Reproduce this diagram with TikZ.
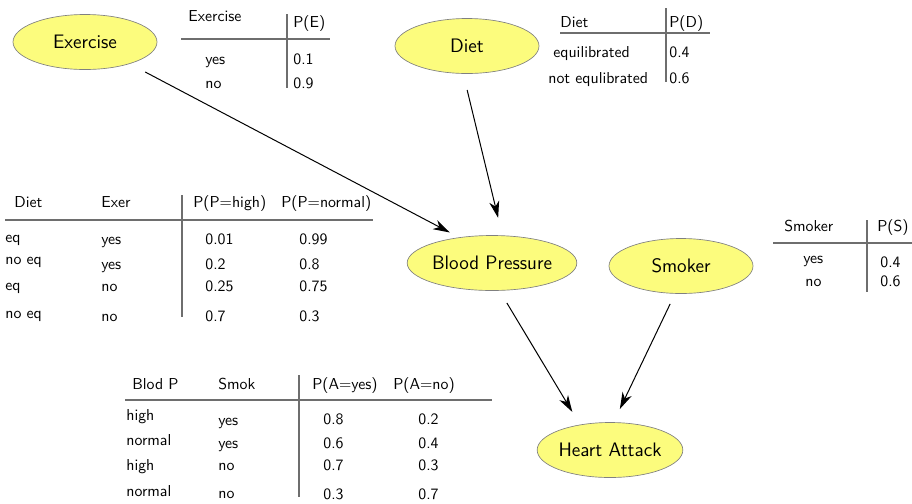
\documentclass[tikz,border=0pt]{standalone}
\usepackage{fontspec}
\renewcommand{\familydefault}{\sfdefault}
\usetikzlibrary{arrows.meta,shapes.geometric}
\definecolor{nodefill}{RGB}{252,252,125}
\definecolor{rulegray}{RGB}{110,110,110}

\begin{document}
\begin{tikzpicture}[x=0.6pt, y=-0.6pt, >={Stealth[length=10pt,width=6pt,inset=3pt]},
    var/.style={ellipse, draw=black!50, fill=nodefill, minimum width=86.4pt, minimum height=33pt,
        inner sep=0pt, outer sep=0pt, font=\fontsize{11.7}{14}\selectfont},
    cell/.style={anchor=west, inner sep=0pt, text height=7pt, text depth=2pt,
        font=\fontsize{9.5}{11}\selectfont},
    rule/.style={rulegray, line width=1pt},
    edge/.style={->, semithick}]
    \useasboundingbox (0,0) rectangle (912,503);

    % Variables of the network
    \node[var] (ex) at (85,42) {Exercise};
    \node[var] (diet) at (467,46) {Diet};
    \node[var] (bp) at (492,263) {Blood Pressure};
    \node[var] (smoker) at (681,266) {Smoker};
    \node[var] (ha) at (610,450) {Heart Attack};

    % Dependencies
    \draw[edge, shorten <=10.7pt, shorten >=6.6pt] (ex.-26) -- (bp.142);
    \draw[edge, shorten <=10.2pt, shorten >=11pt] (diet.-98) -- (bp.69);
    \draw[edge, shorten <=8.8pt, shorten >=9.1pt] (bp.-75) -- (ha.140);
    \draw[edge, shorten <=7pt, shorten >=9pt] (smoker.-102) -- (ha.83);

    % Table for Exercise
    \foreach \x/\y/\t [count=\i] in {188/17/Exercise, 293/23/P(E), 205/60/yes, 293/60/0.1,
        205/84/no, 293/84/0.9}
        \node[cell] (te\i) at (\x,\y) {\t};
    \draw[rule] (181,39) -- (330,39);
    \draw[rule] (287,14) -- (287,88);

    % Table for Diet
    \foreach \x/\y/\t [count=\i] in {560/23/Diet, 669/23/P(D), 553/53/equilibrated, 669/53/0.4,
        548/79/not equlibrated, 669/79/0.6}
        \node[cell] (td\i) at (\x,\y) {\t};
    \draw[rule] (560,33) -- (710,33);
    \draw[rule] (666,8) -- (666,82);

    % Table for Blood Pressure
    \foreach \x/\y/\t [count=\i] in {14/203/Diet, 101/203/Exer, 193/203/P(P=high), 281/203/P(P=normal),
        5/238/eq, 5/260/no eq, 5/286/eq, 5/314/no eq,
        101/240/yes, 101/265/yes, 101/287/no, 101/317/no,
        205/240/0.01, 205/265/0.2, 205/287/0.25, 205/317/0.7,
        299/240/0.99, 299/265/0.8, 299/287/0.75, 299/317/0.3}
        \node[cell] (tp\i) at (\x,\y) {\t};
    \draw[rule] (5,220) -- (373,220);
    \draw[rule] (182,195) -- (182,317);

    % Table for Smoker
    \foreach \x/\y/\t [count=\i] in {784/227/Smoker, 877/227/P(S), 803/259/yes, 805/282/no,
        880/263/0.4, 880/282/0.6}
        \node[cell] (ts\i) at (\x,\y) {\t};
    \draw[rule] (773,243) -- (912,243);
    \draw[rule] (867,220) -- (867,292);

    % Table for Heart Attack
    \foreach \x/\y/\t [count=\i] in {132/385/Blod P, 218/385/Smok, 312/385/P(A=yes), 393/385/P(A=no),
        126/416/high, 126/441/normal, 126/466/high, 126/492/normal,
        218/421/yes, 218/444/yes, 218/466/no, 218/494/no,
        323/420/0.8, 323/444/0.6, 323/466/0.7, 323/495/0.3,
        418/420/0.2, 418/444/0.4, 418/466/0.3, 418/495/0.7}
        \node[cell] (ta\i) at (\x,\y) {\t};
    \draw[rule] (125,400) -- (492,400);
    \draw[rule] (299,375) -- (299,497);
\end{tikzpicture}
\end{document}
